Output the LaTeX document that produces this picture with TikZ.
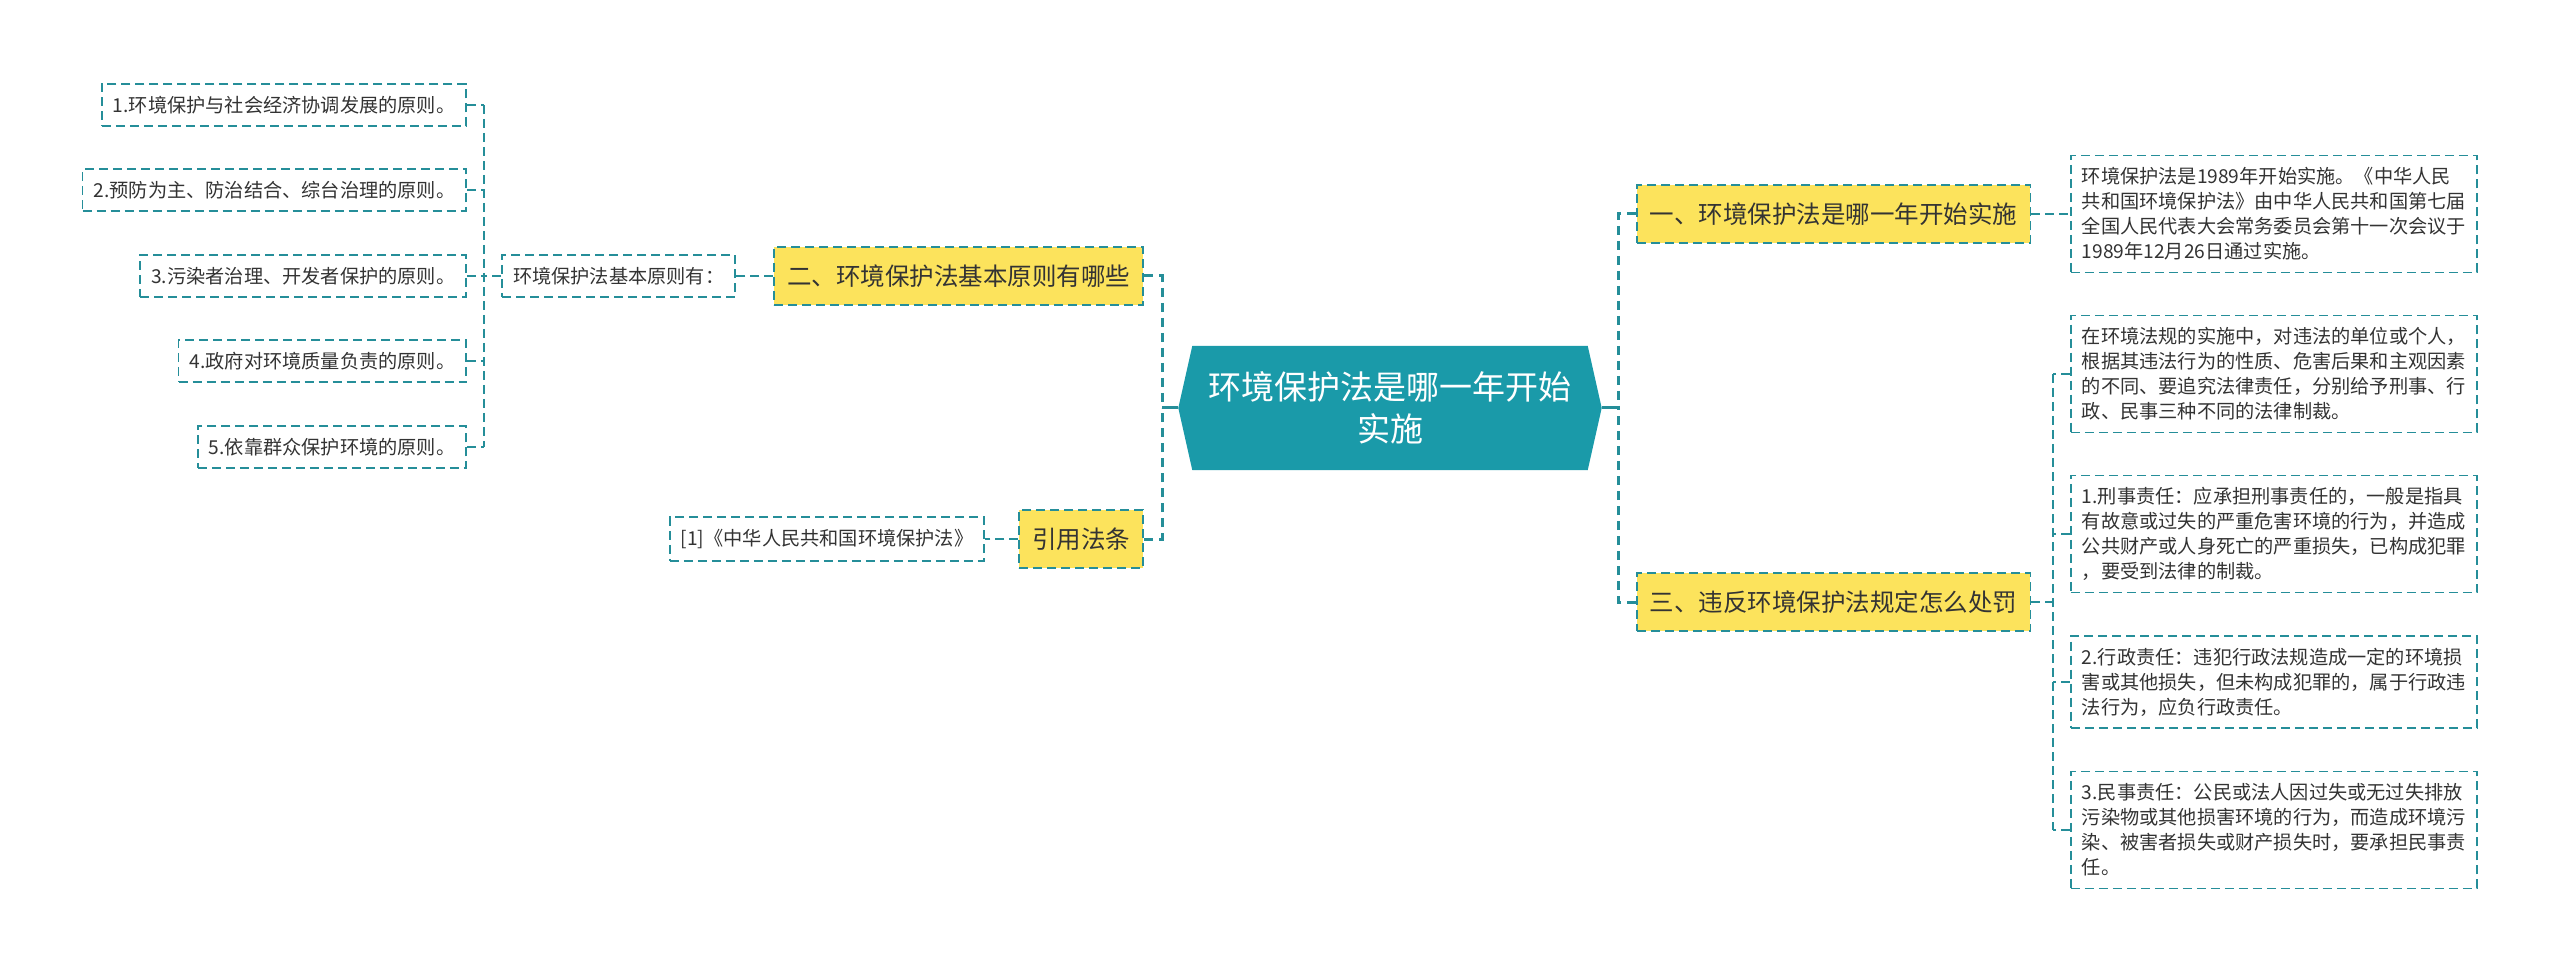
\documentclass[tikz,border=0pt]{standalone}
\usepackage{fontspec}
\setmainfont{Noto Sans CJK SC}
\usetikzlibrary{backgrounds}
\definecolor{rootc}{HTML}{1A9AA9}
\definecolor{linec}{HTML}{258E99}
\definecolor{yel}{HTML}{FCE35C}
\definecolor{txt}{HTML}{333333}

\begin{document}
\begin{tikzpicture}[x=1pt, y=-1pt,
  every node/.style={text=txt, font=\fontsize{19.2}{25}\selectfont},
  leaf/.style={draw=linec, line width=1.6pt, dash pattern=on 9pt off 5pt, inner xsep=11pt, inner ysep=12pt},
  para/.style={leaf, text width=384pt, align=left},
  topic/.style={draw=linec, fill=yel, line width=1.6pt, dash pattern=on 9pt off 5pt, inner xsep=13pt, minimum height=58pt, font=\fontsize{24.5}{30}\selectfont},
  link/.style={linec, line width=2pt, dash pattern=on 9pt off 5pt},
  trunk/.style={linec, line width=3pt, dash pattern=on 9pt off 6pt},
  stem/.style={linec, line width=3pt}]
\useasboundingbox (0,0) rectangle (2560,973);

\node[minimum width=423pt, minimum height=124pt, align=center, text=white, font=\fontsize{33}{42}\selectfont] (root) at (1390,408) {环境保护法是哪一年开始\\实施};
\begin{scope}[on background layer]
\fill[rootc] (root.west) -- ([xshift=14pt]root.north west) -- ([xshift=-14pt]root.north east) -- (root.east) -- ([xshift=-14pt]root.south east) -- ([xshift=14pt]root.south west) -- cycle;
\end{scope}

\node[topic, anchor=east] (basic) at (1144,276) {二、环境保护法基本原则有哪些};
\node[topic, anchor=east] (cite) at (1144,539) {引用法条};
\node[leaf, anchor=east] (basiclist) at (736,276) {环境保护法基本原则有：};
\node[leaf, anchor=east] (law) at (985,539) {[1]《中华人民共和国环境保护法》};
\node[leaf, anchor=east] (p1) at (467,105) {1.环境保护与社会经济协调发展的原则。};
\node[leaf, anchor=east] (p2) at (467,190) {2.预防为主、防治结合、综台治理的原则。};
\node[leaf, anchor=east] (p3) at (467,276) {3.污染者治理、开发者保护的原则。};
\node[leaf, anchor=east] (p4) at (467,361) {4.政府对环境质量负责的原则。};
\node[leaf, anchor=east] (p5) at (467,447) {5.依靠群众保护环境的原则。};

\node[topic, anchor=west] (when) at (1636,214) {一、环境保护法是哪一年开始实施};
\node[topic, anchor=west] (punish) at (1636,602) {三、违反环境保护法规定怎么处罚};
\node[para, anchor=west] (answer) at (2070,214) {环境保护法是1989年开始实施。《中华人民\\共和国环境保护法》由中华人民共和国第七届\\全国人民代表大会常务委员会第十一次会议于\\1989年12月26日通过实施。};
\node[para, anchor=west] (pa) at (2070,374) {在环境法规的实施中，对违法的单位或个人，\\根据其违法行为的性质、危害后果和主观因素\\的不同、要追究法律责任，分别给予刑事、行\\政、民事三种不同的法律制裁。};
\node[para, anchor=west] (pb) at (2070,534) {1.刑事责任：应承担刑事责任的，一般是指具\\有故意或过失的严重危害环境的行为，并造成\\公共财产或人身死亡的严重损失，已构成犯罪\\，要受到法律的制裁。};
\node[para, anchor=west] (pc) at (2070,682) {2.行政责任：违犯行政法规造成一定的环境损\\害或其他损失，但未构成犯罪的，属于行政违\\法行为，应负行政责任。};
\node[para, anchor=west] (pd) at (2070,830) {3.民事责任：公民或法人因过失或无过失排放\\污染物或其他损害环境的行为，而造成环境污\\染、被害者损失或财产损失时，要承担民事责\\任。};

\coordinate (jl) at (1162,408);
\coordinate (jr) at (1618,408);
\coordinate (jb) at (484,276);
\coordinate (jp) at (2053,602);
\draw[stem] (root.west) -- (jl); \draw[stem] (root.east) -- (jr);
\draw[trunk] (basic.east) -| (jl); \draw[trunk] (cite.east) -| (jl);
\draw[trunk] (when.west) -| (jr); \draw[trunk] (punish.west) -| (jr);
\draw[link] (basic.west) -- (basiclist.east); \draw[link] (cite.west) -- (law.east);
\draw[link] (basiclist.west) -- (jb);
\draw[link] (p1.east -| jb) -- (p5.east -| jb);
\foreach \i in {1,...,5} \draw[link] (p\i.east) -- (p\i.east -| jb);
\draw[link] (when.east) -- (answer.west); \draw[link] (punish.east) -- (jp);
\draw[link] (pa.west -| jp) -- (pd.west -| jp);
\foreach \n in {pa,pb,pc,pd} \draw[link] (\n.west) -- (\n.west -| jp);
\end{tikzpicture}
\end{document}
